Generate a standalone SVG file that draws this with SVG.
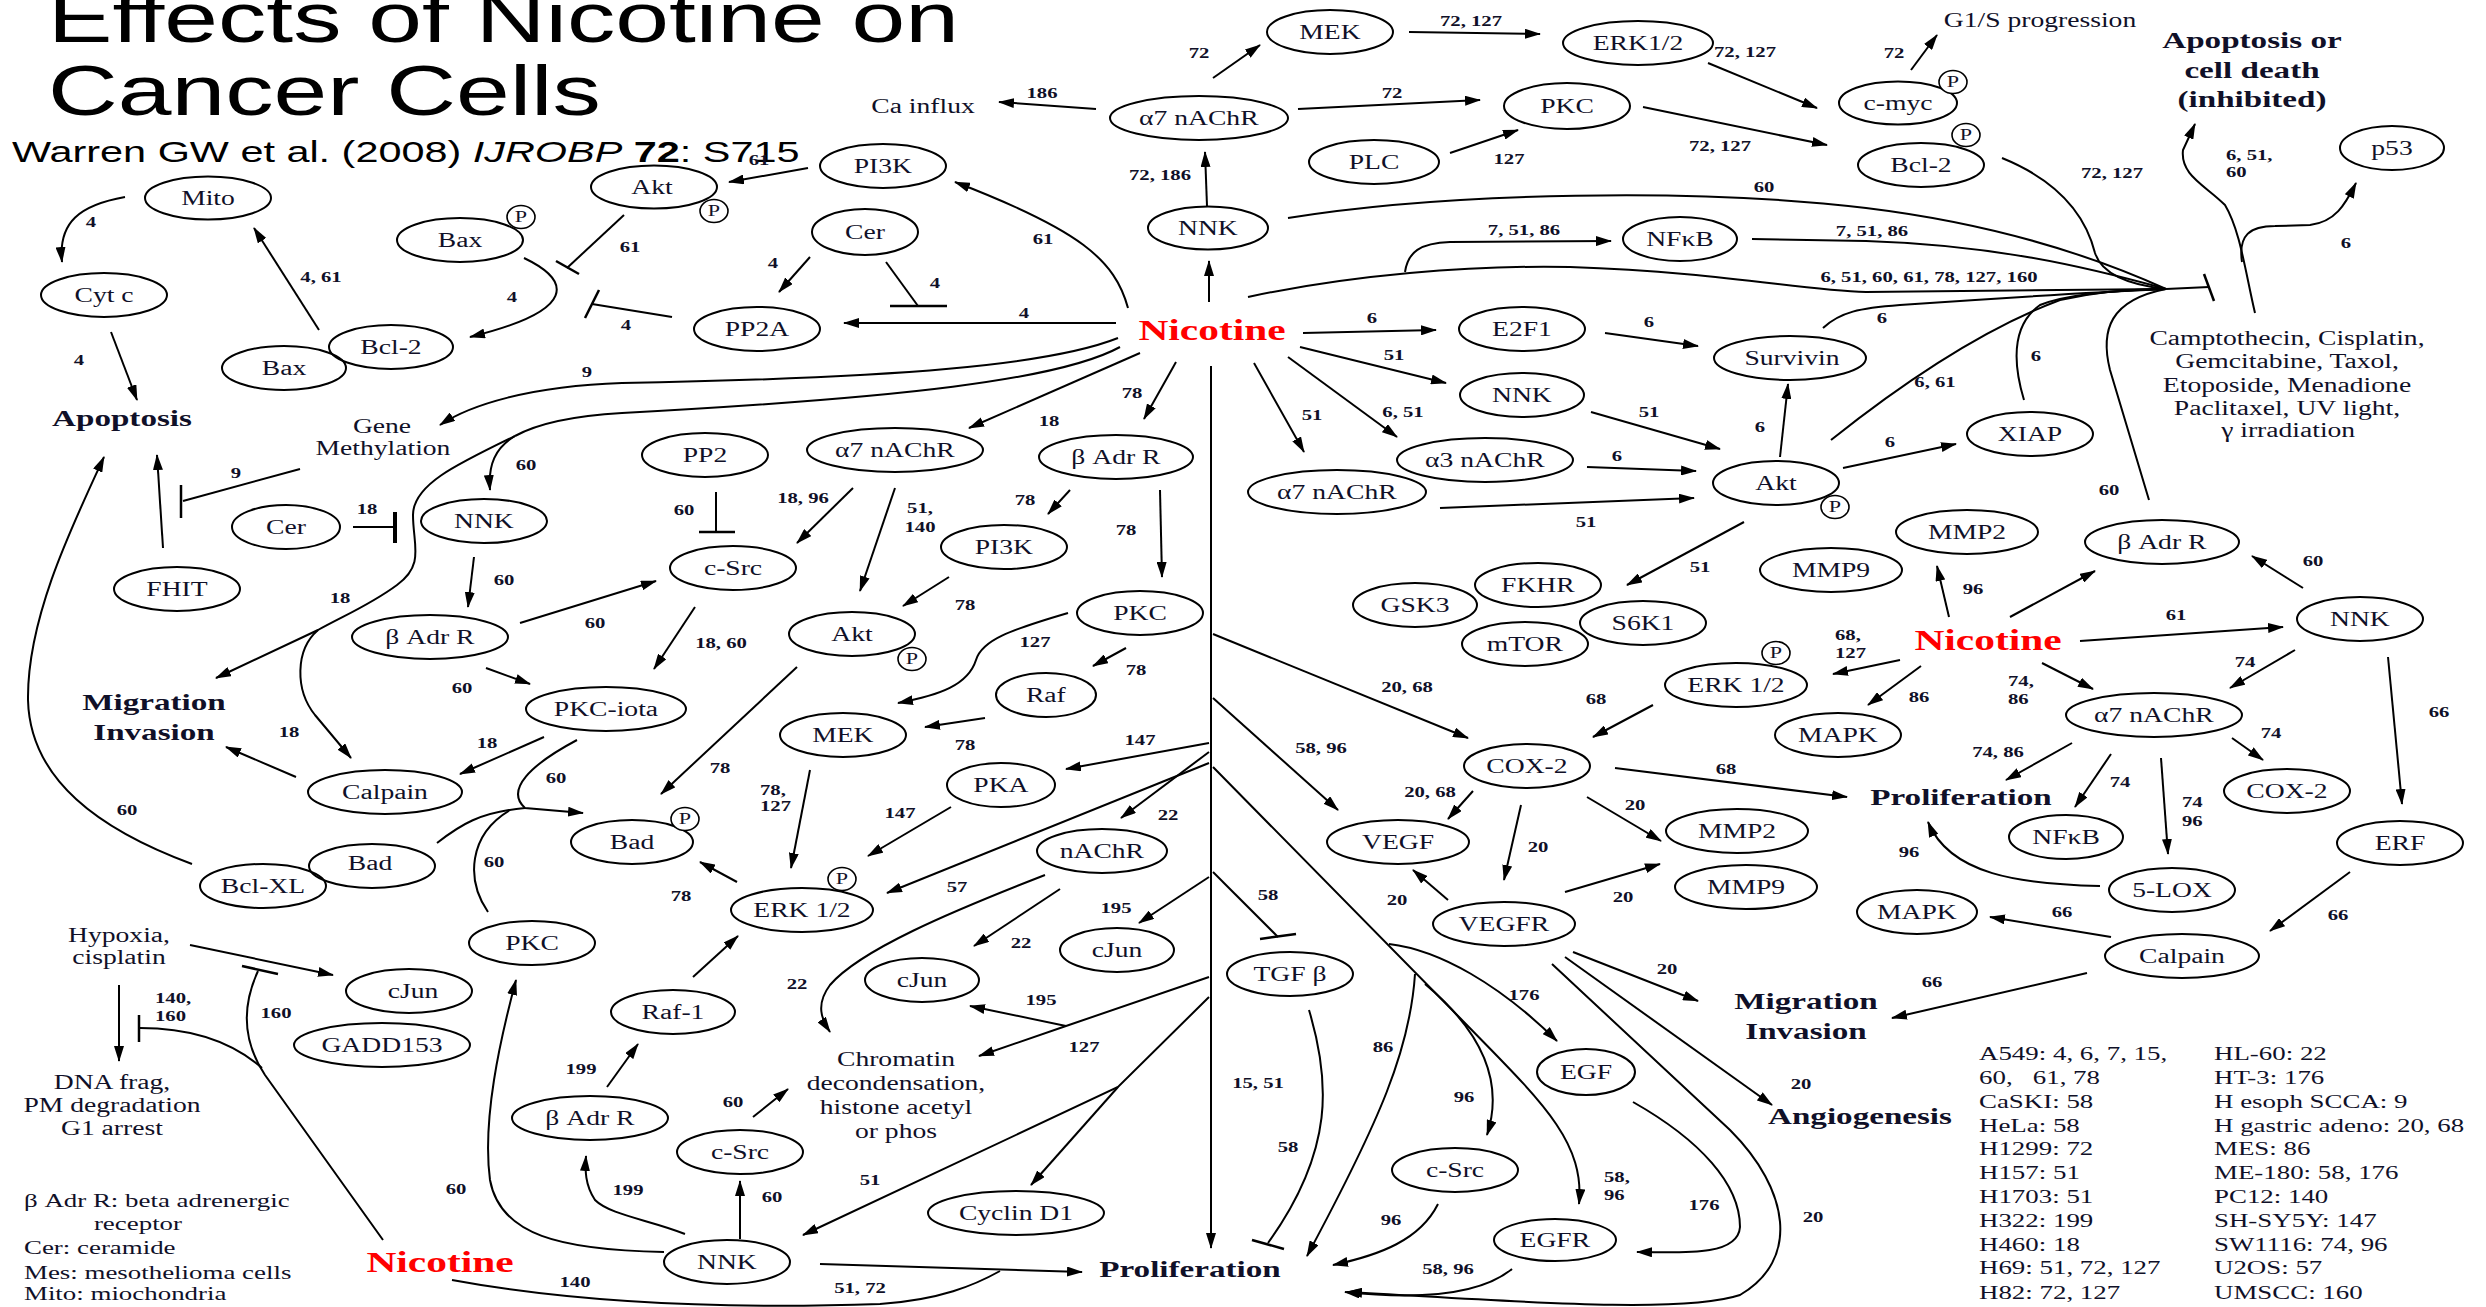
<svg xmlns="http://www.w3.org/2000/svg" width="2486" height="1307" viewBox="0 0 2486 1307">
<style>
text{font-family:"Liberation Serif","Times New Roman",serif;text-anchor:middle;fill:#101028;transform:scaleX(1.38);transform-box:fill-box;transform-origin:50% 50%}
.n{font-size:20px;dominant-baseline:central}
.e{font-size:15px;font-weight:bold;dominant-baseline:central}
.o{font-size:24px;font-weight:bold}
.t{font-size:20px}
.g{font-size:19.5px}
.l{text-anchor:start;transform-origin:0% 50%}
.nic{font-size:30px;font-weight:bold;fill:#ff0000}
.ti{font-family:"Liberation Sans",Arial,sans-serif;fill:#000}
.p{font-size:16px;dominant-baseline:central}
ellipse{fill:none;stroke:#000;stroke-width:2}
ellipse.pc{fill:#fff;stroke-width:1.6}
#edges path,#edges line{fill:none;stroke:#000;stroke-width:2}
#edges .a{marker-end:url(#ah)}
#edges line{stroke-width:2.5}
</style>
<defs>
<marker id="ah" viewBox="0 0 16 10" refX="15" refY="5" markerWidth="16" markerHeight="10" markerUnits="userSpaceOnUse" orient="auto"><path d="M0,0 L16,5 L0,10 z" fill="#000"/></marker>
</defs>
<rect width="2486" height="1307" fill="#fff"/>

<g id="title">
<text class="ti l" x="48" y="42" font-size="70">Effects of Nicotine on</text>
<text class="ti l" x="48" y="115" font-size="70">Cancer Cells</text>
<text class="ti l" x="12" y="162" font-size="30">Warren GW et al. (2008) <tspan font-style="italic">IJROBP</tspan> <tspan font-weight="bold">72</tspan>: S715</text>
</g>

<g id="edges">
<path class="a" d="M125,197 C80,205 58,222 62,262"/>
<path class="a" d="M111,332 L137,400"/>
<path class="a" d="M319,330 L254,228"/>
<path class="a" d="M524,258 C570,280 580,310 470,337"/>
<path d="M624,215 L567,268"/>
<line x1="556" y1="261" x2="579" y2="274"/>
<path d="M672,317 L592,304"/>
<line x1="585" y1="318" x2="599" y2="290"/>
<path class="a" d="M808,168 L729,182"/>
<path class="a" d="M810,257 L779,292"/>
<path d="M886,262 L918,306"/>
<line x1="890" y1="306" x2="947" y2="306"/>
<path class="a" d="M1116,323 L844,323"/>
<path class="a" d="M1128,308 C1115,260 1080,230 955,182"/>
<path class="a" d="M1118,338 C1050,365 900,378 622,383 C530,386 470,405 440,425"/>
<path d="M1120,347 C1060,380 900,398 622,413 C570,416 535,425 515,436"/>
<path class="a" d="M515,436 C495,448 488,465 490,490"/>
<path class="a" d="M515,436 C455,465 413,485 413,515 C413,545 425,565 397,585 C370,605 345,615 318,630 L216,678"/>
<path class="a" d="M318,630 C295,650 295,690 315,715 L351,758"/>
<path class="a" d="M1096,109 L999,102"/>
<path class="a" d="M1213,78 L1260,45"/>
<path class="a" d="M1207,206 L1205,152"/>
<path class="a" d="M1209,302 L1209,261"/>
<path class="a" d="M1409,32 L1540,34"/>
<path class="a" d="M1708,63 L1817,108"/>
<path class="a" d="M1298,109 L1480,100"/>
<path class="a" d="M1450,153 L1518,130"/>
<path class="a" d="M1643,107 L1827,145"/>
<path class="a" d="M1911,70 L1937,35"/>
<path d="M1288,218 C1450,192 1700,188 1866,208 C1980,222 2080,250 2166,289"/>
<path d="M1752,239 L1866,241 C1990,245 2080,265 2166,289"/>
<path d="M1248,297 C1350,275 1470,265 1570,267 C1720,272 1800,290 1866,292 L2166,289"/>
<path class="a" d="M1405,272 C1408,252 1420,243 1450,242 L1611,241"/>
<path d="M2002,158 C2056,180 2085,213 2095,253 C2102,275 2130,285 2166,289"/>
<path d="M1823,328 C1840,312 1860,308 1900,305 C2000,298 2100,292 2166,289"/>
<path d="M1831,440 C1900,385 1980,330 2060,300 C2100,291 2140,289 2166,289"/>
<path d="M2024,400 C2012,360 2012,325 2040,305 C2070,293 2120,290 2166,289"/>
<path d="M2149,500 L2110,370 C2100,330 2110,300 2166,289"/>
<path d="M2166,289 L2209,287"/>
<line x1="2204" y1="274" x2="2214" y2="301"/>
<path class="a" d="M2255,313 C2245,270 2240,230 2225,205 C2205,185 2180,175 2183,150 L2195,124"/>
<path class="a" d="M2242,262 C2238,235 2250,226 2275,226 L2310,225 C2335,222 2345,205 2356,183"/>
<path class="a" d="M1303,333 L1436,330"/>
<path class="a" d="M1605,333 L1698,346"/>
<path class="a" d="M1300,347 L1446,383"/>
<path class="a" d="M1591,412 L1720,449"/>
<path class="a" d="M1288,357 L1397,437"/>
<path class="a" d="M1254,363 L1304,452"/>
<path class="a" d="M1587,467 L1696,471"/>
<path class="a" d="M1440,508 L1694,498"/>
<path class="a" d="M1780,457 L1788,384"/>
<path class="a" d="M1744,522 L1627,585"/>
<path class="a" d="M1843,468 L1956,444"/>
<path class="a" d="M1949,617 L1937,566"/>
<path class="a" d="M2010,617 L2095,571"/>
<path class="a" d="M2303,588 L2252,556"/>
<path class="a" d="M2080,641 L2283,627"/>
<path class="a" d="M2295,650 L2230,688"/>
<path class="a" d="M2388,657 L2402,804"/>
<path class="a" d="M2042,663 L2093,689"/>
<path class="a" d="M1921,666 L1868,705"/>
<path class="a" d="M1900,660 L1833,674"/>
<path class="a" d="M1653,705 L1593,737"/>
<path class="a" d="M2072,743 L2006,780"/>
<path class="a" d="M2111,754 L2075,807"/>
<path class="a" d="M2161,758 L2168,854"/>
<path class="a" d="M2232,738 L2263,760"/>
<path class="a" d="M2100,886 C2020,884 1950,875 1928,822"/>
<path class="a" d="M2350,872 L2270,931"/>
<path class="a" d="M2111,937 L1990,917"/>
<path class="a" d="M2087,973 L1892,1018"/>
<path class="a" d="M1213,634 L1468,738"/>
<path class="a" d="M1213,698 L1338,810"/>
<path class="a" d="M1615,768 L1847,797"/>
<path class="a" d="M1473,791 L1448,819"/>
<path class="a" d="M1587,797 L1661,841"/>
<path class="a" d="M1521,805 L1504,880"/>
<path class="a" d="M1448,900 L1413,870"/>
<path class="a" d="M1565,892 L1660,864"/>
<path class="a" d="M1573,952 L1698,1001"/>
<path class="a" d="M1565,957 L1772,1105"/>
<path class="a" d="M1552,964 L1730,1130 C1790,1190 1800,1260 1740,1295 C1680,1315 1500,1300 1347,1292"/>
<path class="a" d="M1213,767 L1460,1018 C1540,1100 1585,1140 1579,1204"/>
<path class="a" d="M1389,944 C1440,950 1500,985 1557,1041"/>
<path class="a" d="M1425,984 C1480,1030 1505,1080 1487,1135"/>
<path class="a" d="M1415,974 C1410,1050 1380,1120 1307,1256"/>
<path class="a" d="M1438,1204 C1420,1240 1380,1255 1333,1265"/>
<path class="a" d="M1512,1269 C1480,1295 1420,1300 1345,1292"/>
<path class="a" d="M1633,1102 C1700,1140 1740,1184 1740,1227 C1738,1255 1690,1253 1637,1252"/>
<path d="M1213,872 L1278,937"/>
<line x1="1260" y1="939" x2="1296" y2="934"/>
<path d="M1309,1010 C1330,1080 1335,1150 1268,1243"/>
<line x1="1252" y1="1240" x2="1284" y2="1249"/>
<path class="a" d="M1140,353 L969,428"/>
<path class="a" d="M1176,362 L1144,419"/>
<path class="a" d="M1211,366 L1211,1248"/>
<path d="M716,492 L716,532"/>
<line x1="699" y1="532" x2="735" y2="532"/>
<path class="a" d="M853,488 L797,543"/>
<path class="a" d="M895,488 L860,591"/>
<path class="a" d="M1070,490 L1048,514"/>
<path class="a" d="M1160,490 L1162,577"/>
<path class="a" d="M949,577 L903,606"/>
<path class="a" d="M695,607 L654,669"/>
<path class="a" d="M797,667 L661,794"/>
<path class="a" d="M1068,613 C1010,630 982,640 976,660 C968,685 940,695 898,703"/>
<path class="a" d="M1126,648 L1093,666"/>
<path class="a" d="M985,718 L925,727"/>
<path class="a" d="M810,770 L791,868"/>
<path class="a" d="M1209,743 L1066,769"/>
<path class="a" d="M951,807 L868,856"/>
<path class="a" d="M1209,752 L1121,818"/>
<path class="a" d="M1209,763 L887,893"/>
<path class="a" d="M737,882 L700,862"/>
<path class="a" d="M1045,875 C950,912 860,950 830,985 C815,1005 822,1020 830,1032"/>
<path class="a" d="M1060,889 L974,946"/>
<path class="a" d="M1209,877 L1139,923"/>
<path class="a" d="M1209,977 L1066,1026 L979,1056"/>
<path class="a" d="M1066,1026 L970,1006"/>
<path class="a" d="M1209,997 L1118,1087 L803,1235"/>
<path class="a" d="M1118,1087 L1031,1185"/>
<path class="a" d="M693,977 L738,936"/>
<path class="a" d="M753,1117 L788,1089"/>
<path class="a" d="M740,1239 L740,1181"/>
<path class="a" d="M820,1264 L1082,1272"/>
<path d="M452,1280 C560,1300 700,1310 880,1304 C940,1300 975,1285 1000,1271"/>
<path class="a" d="M685,1234 C650,1220 610,1215 595,1200 C585,1185 585,1170 586,1156"/>
<path class="a" d="M607,1087 L638,1044"/>
<path class="a" d="M664,1252 C560,1250 500,1235 490,1180 C482,1120 500,1040 516,980"/>
<path class="a" d="M474,557 L468,607"/>
<path class="a" d="M520,623 L656,581"/>
<path class="a" d="M486,668 L530,684"/>
<path class="a" d="M296,777 L226,747"/>
<path class="a" d="M544,737 L460,774"/>
<path class="a" d="M577,740 C530,765 505,790 525,808 L583,813"/>
<path d="M437,843 C460,825 480,812 525,808"/>
<path d="M488,912 C466,880 468,835 510,810"/>
<path class="a" d="M192,864 C100,830 30,780 28,700 C27,620 70,530 104,457"/>
<path class="a" d="M163,548 L157,455"/>
<path d="M300,469 L183,501"/>
<line x1="181" y1="485" x2="181" y2="518"/>
<path d="M353,527 L395,527"/>
<line x1="395" y1="512" x2="395" y2="543" style="stroke-width:4"/>
<path class="a" d="M190,945 L333,975"/>
<path class="a" d="M119,985 L119,1061"/>
<path d="M383,1240 L265,1075 C245,1045 240,1010 258,971"/>
<line x1="242" y1="966" x2="278" y2="974"/>
<path d="M262,1068 C230,1040 190,1028 140,1028"/>
<line x1="139" y1="1015" x2="139" y2="1042"/>
</g>

<g id="nodes">
<g id="n-mito"><ellipse cx="208" cy="198" rx="63" ry="21.5"/><text class="n" x="208" y="198">Mito</text></g>
<g id="n-baxp"><ellipse cx="460" cy="240" rx="63" ry="22"/><text class="n" x="460" y="240">Bax</text><ellipse class="pc" cx="521" cy="217" rx="14" ry="11.5"/><text class="p" x="521" y="217">P</text></g>
<g id="n-cytc"><ellipse cx="104" cy="295" rx="63" ry="22"/><text class="n" x="104" y="295">Cyt c</text></g>
<g id="n-baxa"><ellipse cx="284" cy="368" rx="62" ry="22"/><text class="n" x="284" y="368">Bax</text></g>
<g id="n-bcl2a"><ellipse cx="391" cy="347" rx="62" ry="22"/><text class="n" x="391" y="347">Bcl-2</text></g>
<g id="n-akta"><ellipse cx="654" cy="187" rx="63" ry="21.5"/><text class="n" x="652" y="187">Akt</text><ellipse class="pc" cx="714" cy="211" rx="14" ry="11.5"/><text class="p" x="714" y="211">P</text></g>
<g id="n-pi3ka"><ellipse cx="883" cy="166" rx="63" ry="22"/><text class="n" x="883" y="166">PI3K</text></g>
<g id="n-cera"><ellipse cx="865" cy="232" rx="53" ry="23"/><text class="n" x="865" y="232">Cer</text></g>
<g id="n-pp2a"><ellipse cx="757" cy="329" rx="63" ry="22"/><text class="n" x="757" y="329">PP2A</text></g>
<g id="n-a7top"><ellipse cx="1199" cy="118" rx="89" ry="22"/><text class="n" x="1199" y="118">α7 nAChR</text></g>
<g id="n-nnktop"><ellipse cx="1208" cy="228" rx="60" ry="21.5"/><text class="n" x="1208" y="228">NNK</text></g>
<g id="n-mektop"><ellipse cx="1330" cy="32" rx="63" ry="22"/><text class="n" x="1330" y="32">MEK</text></g>
<g id="n-erktop"><ellipse cx="1638" cy="43" rx="75" ry="22"/><text class="n" x="1638" y="43">ERK1/2</text></g>
<g id="n-pkctop"><ellipse cx="1567" cy="106" rx="63" ry="23"/><text class="n" x="1567" y="106">PKC</text></g>
<g id="n-plc"><ellipse cx="1374" cy="162" rx="65" ry="22"/><text class="n" x="1374" y="162">PLC</text></g>
<g id="n-cmyc"><ellipse cx="1898" cy="103" rx="59" ry="21.5"/><text class="n" x="1898" y="103">c-myc</text><ellipse class="pc" cx="1953" cy="82" rx="14" ry="11.5"/><text class="p" x="1953" y="82">P</text></g>
<g id="n-bcl2b"><ellipse cx="1921" cy="165" rx="63" ry="22"/><text class="n" x="1921" y="165">Bcl-2</text><ellipse class="pc" cx="1966" cy="135" rx="14" ry="11.5"/><text class="p" x="1966" y="135">P</text></g>
<g id="n-p53"><ellipse cx="2392" cy="148" rx="52" ry="22"/><text class="n" x="2392" y="148">p53</text></g>
<g id="n-nfkba"><ellipse cx="1680" cy="239" rx="57" ry="22"/><text class="n" x="1680" y="239">NFκB</text></g>
<g id="n-e2f1"><ellipse cx="1522" cy="329" rx="63" ry="22"/><text class="n" x="1522" y="329">E2F1</text></g>
<g id="n-survivin"><ellipse cx="1790" cy="358" rx="76" ry="22"/><text class="n" x="1792" y="358">Survivin</text></g>
<g id="n-nnkr"><ellipse cx="1522" cy="395" rx="62" ry="22"/><text class="n" x="1522" y="395">NNK</text></g>
<g id="n-xiap"><ellipse cx="2030" cy="434" rx="63" ry="22"/><text class="n" x="2030" y="434">XIAP</text></g>
<g id="n-a3"><ellipse cx="1485" cy="460" rx="88" ry="22"/><text class="n" x="1485" y="460">α3 nAChR</text></g>
<g id="n-a7r"><ellipse cx="1337" cy="492" rx="89" ry="22"/><text class="n" x="1337" y="492">α7 nAChR</text></g>
<g id="n-aktr"><ellipse cx="1776" cy="483" rx="63" ry="22"/><text class="n" x="1776" y="483">Akt</text><ellipse class="pc" cx="1835" cy="507" rx="14" ry="11.5"/><text class="p" x="1835" y="507">P</text></g>
<g id="n-gsk3"><ellipse cx="1415" cy="605" rx="62" ry="22"/><text class="n" x="1415" y="605">GSK3</text></g>
<g id="n-fkhr"><ellipse cx="1538" cy="585" rx="63" ry="22"/><text class="n" x="1538" y="585">FKHR</text></g>
<g id="n-s6k1"><ellipse cx="1643" cy="623" rx="63" ry="22"/><text class="n" x="1643" y="623">S6K1</text></g>
<g id="n-mtor"><ellipse cx="1525" cy="644" rx="63" ry="22"/><text class="n" x="1525" y="644">mTOR</text></g>
<g id="n-mmp9r"><ellipse cx="1831" cy="570" rx="71" ry="22"/><text class="n" x="1831" y="570">MMP9</text></g>
<g id="n-mmp2r"><ellipse cx="1967" cy="532" rx="71" ry="22"/><text class="n" x="1967" y="532">MMP2</text></g>
<g id="n-badrr"><ellipse cx="2162" cy="542" rx="77" ry="22"/><text class="n" x="2162" y="542">β Adr R</text></g>
<g id="n-nnkrr"><ellipse cx="2360" cy="619" rx="63" ry="22"/><text class="n" x="2360" y="619">NNK</text></g>
<g id="n-erkr"><ellipse cx="1736" cy="685" rx="71" ry="22"/><text class="n" x="1736" y="685">ERK 1/2</text><ellipse class="pc" cx="1776" cy="653" rx="14" ry="11.5"/><text class="p" x="1776" y="653">P</text></g>
<g id="n-mapkr"><ellipse cx="1838" cy="735" rx="63" ry="22"/><text class="n" x="1838" y="735">MAPK</text></g>
<g id="n-a7rr"><ellipse cx="2154" cy="715" rx="88" ry="22"/><text class="n" x="2154" y="715">α7 nAChR</text></g>
<g id="n-cox2r"><ellipse cx="2287" cy="791" rx="63" ry="22"/><text class="n" x="2287" y="791">COX-2</text></g>
<g id="n-nfkbr"><ellipse cx="2066" cy="837" rx="57" ry="22"/><text class="n" x="2066" y="837">NFκB</text></g>
<g id="n-erf"><ellipse cx="2400" cy="843" rx="63" ry="22"/><text class="n" x="2400" y="843">ERF</text></g>
<g id="n-lox"><ellipse cx="2172" cy="890" rx="63" ry="22"/><text class="n" x="2172" y="890">5-LOX</text></g>
<g id="n-mapkb"><ellipse cx="1917" cy="912" rx="60" ry="22"/><text class="n" x="1917" y="912">MAPK</text></g>
<g id="n-calpr"><ellipse cx="2182" cy="956" rx="77" ry="22"/><text class="n" x="2182" y="956">Calpain</text></g>
<g id="n-cox2m"><ellipse cx="1527" cy="766" rx="63" ry="22"/><text class="n" x="1527" y="766">COX-2</text></g>
<g id="n-vegf"><ellipse cx="1398" cy="842" rx="71" ry="22"/><text class="n" x="1398" y="842">VEGF</text></g>
<g id="n-mmp2m"><ellipse cx="1737" cy="831" rx="71" ry="22"/><text class="n" x="1737" y="831">MMP2</text></g>
<g id="n-vegfr"><ellipse cx="1504" cy="924" rx="71" ry="22"/><text class="n" x="1504" y="924">VEGFR</text></g>
<g id="n-mmp9m"><ellipse cx="1746" cy="887" rx="71" ry="22"/><text class="n" x="1746" y="887">MMP9</text></g>
<g id="n-egf"><ellipse cx="1586" cy="1072" rx="49" ry="23"/><text class="n" x="1586" y="1072">EGF</text></g>
<g id="n-csrcr"><ellipse cx="1455" cy="1170" rx="63" ry="22"/><text class="n" x="1455" y="1170">c-Src</text></g>
<g id="n-egfr"><ellipse cx="1555" cy="1240" rx="61" ry="21"/><text class="n" x="1555" y="1240">EGFR</text></g>
<g id="n-tgfb"><ellipse cx="1290" cy="974" rx="63" ry="22"/><text class="n" x="1290" y="974">TGF β</text></g>
<g id="n-pp2"><ellipse cx="705" cy="455" rx="63" ry="22"/><text class="n" x="705" y="455">PP2</text></g>
<g id="n-a7m"><ellipse cx="895" cy="450" rx="88" ry="22"/><text class="n" x="895" y="450">α7 nAChR</text></g>
<g id="n-badrm"><ellipse cx="1116" cy="457" rx="77" ry="22"/><text class="n" x="1116" y="457">β Adr R</text></g>
<g id="n-pi3km"><ellipse cx="1004" cy="547" rx="63" ry="22"/><text class="n" x="1004" y="547">PI3K</text></g>
<g id="n-csrcm"><ellipse cx="733" cy="568" rx="63" ry="22"/><text class="n" x="733" y="568">c-Src</text></g>
<g id="n-aktm"><ellipse cx="852" cy="634" rx="63" ry="22"/><text class="n" x="852" y="634">Akt</text><ellipse class="pc" cx="912" cy="659" rx="14" ry="11.5"/><text class="p" x="912" y="659">P</text></g>
<g id="n-pkcm"><ellipse cx="1140" cy="613" rx="63" ry="22"/><text class="n" x="1140" y="613">PKC</text></g>
<g id="n-raf"><ellipse cx="1046" cy="695" rx="50" ry="22"/><text class="n" x="1046" y="695">Raf</text></g>
<g id="n-mekm"><ellipse cx="843" cy="735" rx="63" ry="22"/><text class="n" x="843" y="735">MEK</text></g>
<g id="n-pka"><ellipse cx="1001" cy="785" rx="54" ry="22"/><text class="n" x="1001" y="785">PKA</text></g>
<g id="n-badm"><ellipse cx="632" cy="842" rx="61" ry="22"/><text class="n" x="632" y="842">Bad</text><ellipse class="pc" cx="685" cy="819" rx="14" ry="11.5"/><text class="p" x="685" y="819">P</text></g>
<g id="n-nachr"><ellipse cx="1102" cy="851" rx="65" ry="22"/><text class="n" x="1102" y="851">nAChR</text></g>
<g id="n-erkb"><ellipse cx="802" cy="910" rx="71" ry="22"/><text class="n" x="802" y="910">ERK 1/2</text><ellipse class="pc" cx="842" cy="879" rx="14" ry="11.5"/><text class="p" x="842" y="879">P</text></g>
<g id="n-cjunm"><ellipse cx="922" cy="980" rx="57" ry="22"/><text class="n" x="922" y="980">cJun</text></g>
<g id="n-cjunr"><ellipse cx="1117" cy="950" rx="57" ry="22"/><text class="n" x="1117" y="950">cJun</text></g>
<g id="n-raf1"><ellipse cx="673" cy="1012" rx="62" ry="22"/><text class="n" x="673" y="1012">Raf-1</text></g>
<g id="n-csrcb"><ellipse cx="740" cy="1152" rx="63" ry="22"/><text class="n" x="740" y="1152">c-Src</text></g>
<g id="n-badrb"><ellipse cx="590" cy="1118" rx="78" ry="22"/><text class="n" x="590" y="1118">β Adr R</text></g>
<g id="n-nnkb"><ellipse cx="727" cy="1262" rx="63" ry="22"/><text class="n" x="727" y="1262">NNK</text></g>
<g id="n-cyclin"><ellipse cx="1016" cy="1213" rx="88" ry="22"/><text class="n" x="1016" y="1213">Cyclin D1</text></g>
<g id="n-cerl"><ellipse cx="286" cy="527" rx="54" ry="22"/><text class="n" x="286" y="527">Cer</text></g>
<g id="n-fhit"><ellipse cx="177" cy="589" rx="63" ry="22"/><text class="n" x="177" y="589">FHIT</text></g>
<g id="n-nnkl"><ellipse cx="484" cy="521" rx="63" ry="22"/><text class="n" x="484" y="521">NNK</text></g>
<g id="n-badrl"><ellipse cx="430" cy="637" rx="78" ry="22"/><text class="n" x="430" y="637">β Adr R</text></g>
<g id="n-pkciota"><ellipse cx="606" cy="709" rx="80" ry="22"/><text class="n" x="606" y="709">PKC-iota</text></g>
<g id="n-calpl"><ellipse cx="385" cy="792" rx="77" ry="22"/><text class="n" x="385" y="792">Calpain</text></g>
<g id="n-bclxl"><ellipse cx="263" cy="886" rx="63" ry="22"/><text class="n" x="263" y="886">Bcl-XL</text></g>
<g id="n-badl"><ellipse cx="372" cy="866" rx="63" ry="22"/><text class="n" x="370" y="863">Bad</text></g>
<g id="n-pkcl"><ellipse cx="532" cy="943" rx="63" ry="22"/><text class="n" x="532" y="943">PKC</text></g>
<g id="n-cjunl"><ellipse cx="409" cy="991" rx="63" ry="22"/><text class="n" x="413" y="991">cJun</text></g>
<g id="n-gadd"><ellipse cx="382" cy="1045" rx="88" ry="22"/><text class="n" x="382" y="1045">GADD153</text></g>

<g id="n-nic-c"><text class="nic" x="1212" y="340">Nicotine</text></g>
<g id="n-nic-r"><text class="nic" x="1988" y="650">Nicotine</text></g>
<g id="n-nic-l"><text class="nic" x="440" y="1272">Nicotine</text></g>

<g id="n-apop"><text class="o" x="122" y="426">Apoptosis</text></g>
<g id="n-migl"><text class="o" x="154" y="710">Migration</text><text class="o" x="154" y="740">Invasion</text></g>
<g id="n-prolb"><text class="o" x="1190" y="1277">Proliferation</text></g>
<g id="n-prolr"><text class="o" x="1961" y="805">Proliferation</text></g>
<g id="n-migr"><text class="o" x="1806" y="1009">Migration</text><text class="o" x="1806" y="1039">Invasion</text></g>
<g id="n-angio"><text class="o" x="1860" y="1124">Angiogenesis</text></g>
<g id="n-apopinh"><text class="o" x="2252" y="48">Apoptosis or</text><text class="o" x="2252" y="78">cell death</text><text class="o" x="2252" y="107">(inhibited)</text></g>
<g id="n-ca"><text class="t" x="923" y="113">Ca influx</text></g>
<g id="n-g1s"><text class="t" x="2040" y="27">G1/S progression</text></g>
<g id="n-gene"><text class="t" x="382" y="433">Gene</text><text class="t" x="383" y="455">Methylation</text></g>
<g id="n-drugs"><text class="t" x="2287" y="345">Camptothecin, Cisplatin,</text><text class="t" x="2287" y="368">Gemcitabine, Taxol,</text><text class="t" x="2287" y="392">Etoposide, Menadione</text><text class="t" x="2287" y="415">Paclitaxel, UV light,</text><text class="t" x="2288" y="437">γ irradiation</text></g>
<g id="n-hypoxia"><text class="t" x="119" y="942">Hypoxia,</text><text class="t" x="119" y="964">cisplatin</text></g>
<g id="n-dna"><text class="t" x="112" y="1089">DNA frag,</text><text class="t" x="112" y="1112">PM degradation</text><text class="t" x="112" y="1135">G1 arrest</text></g>
<g id="n-chrom"><text class="t" x="896" y="1066">Chromatin</text><text class="t" x="896" y="1090">decondensation,</text><text class="t" x="896" y="1114">histone acetyl</text><text class="t" x="896" y="1138">or phos</text></g>
</g>

<g id="legend">
<text class="g l" x="24" y="1207">β Adr R: beta adrenergic</text>
<text class="g" x="138" y="1230">receptor</text>
<text class="g l" x="24" y="1254">Cer: ceramide</text>
<text class="g l" x="24" y="1279">Mes: mesothelioma cells</text>
<text class="g l" x="24" y="1300">Mito: miochondria</text>
<text class="g l" x="1979" y="1060">A549: 4, 6, 7, 15,</text>
<text class="g l" x="1979" y="1084">60,&#160;&#160; 61, 78</text>
<text class="g l" x="1979" y="1108">CaSKI: 58</text>
<text class="g l" x="1979" y="1132">HeLa: 58</text>
<text class="g l" x="1979" y="1155">H1299: 72</text>
<text class="g l" x="1979" y="1179">H157: 51</text>
<text class="g l" x="1979" y="1203">H1703: 51</text>
<text class="g l" x="1979" y="1227">H322: 199</text>
<text class="g l" x="1979" y="1251">H460: 18</text>
<text class="g l" x="1979" y="1274">H69: 51, 72, 127</text>
<text class="g l" x="1979" y="1299">H82: 72, 127</text>
<text class="g l" x="2214" y="1060">HL-60: 22</text>
<text class="g l" x="2214" y="1084">HT-3: 176</text>
<text class="g l" x="2214" y="1108">H esoph SCCA: 9</text>
<text class="g l" x="2214" y="1132">H gastric adeno: 20, 68</text>
<text class="g l" x="2214" y="1155">MES: 86</text>
<text class="g l" x="2214" y="1179">ME-180: 58, 176</text>
<text class="g l" x="2214" y="1203">PC12: 140</text>
<text class="g l" x="2214" y="1227">SH-SY5Y: 147</text>
<text class="g l" x="2214" y="1251">SW1116: 74, 96</text>
<text class="g l" x="2214" y="1274">U2OS: 57</text>
<text class="g l" x="2214" y="1299">UMSCC: 160</text>
</g>

<g id="edge-labels">
<text class="e" x="91" y="222">4</text>
<text class="e" x="79" y="360">4</text>
<text class="e" x="321" y="277">4, 61</text>
<text class="e" x="512" y="297">4</text>
<text class="e" x="630" y="247">61</text>
<text class="e" x="626" y="325">4</text>
<text class="e" x="587" y="372">9</text>
<text class="e" x="759" y="160">61</text>
<text class="e" x="773" y="263">4</text>
<text class="e" x="935" y="283">4</text>
<text class="e" x="1024" y="313">4</text>
<text class="e" x="1043" y="239">61</text>
<text class="e" x="1042" y="93">186</text>
<text class="e" x="1199" y="53">72</text>
<text class="e" x="1160" y="175">72, 186</text>
<text class="e" x="1471" y="21">72, 127</text>
<text class="e" x="1745" y="52">72, 127</text>
<text class="e" x="1392" y="93">72</text>
<text class="e" x="1509" y="159">127</text>
<text class="e" x="1720" y="146">72, 127</text>
<text class="e" x="1894" y="53">72</text>
<text class="e" x="2112" y="173">72, 127</text>
<text class="e" x="1764" y="187">60</text>
<text class="e" x="1524" y="230">7, 51, 86</text>
<text class="e" x="1872" y="231">7, 51, 86</text>
<text class="e" x="1929" y="277">6, 51, 60, 61, 78, 127, 160</text>
<text class="e" x="1882" y="318">6</text>
<text class="e l" x="2226" y="155">6, 51,</text>
<text class="e l" x="2226" y="172">60</text>
<text class="e" x="2346" y="243">6</text>
<text class="e" x="1372" y="318">6</text>
<text class="e" x="1649" y="322">6</text>
<text class="e" x="1394" y="355">51</text>
<text class="e" x="1649" y="412">51</text>
<text class="e" x="1403" y="412">6, 51</text>
<text class="e" x="1312" y="415">51</text>
<text class="e" x="1760" y="427">6</text>
<text class="e" x="1935" y="382">6, 61</text>
<text class="e" x="2036" y="356">6</text>
<text class="e" x="1890" y="442">6</text>
<text class="e" x="1617" y="456">6</text>
<text class="e" x="1586" y="522">51</text>
<text class="e" x="1700" y="567">51</text>
<text class="e" x="2109" y="490">60</text>
<text class="e" x="1973" y="589">96</text>
<text class="e" x="2313" y="561">60</text>
<text class="e" x="2176" y="615">61</text>
<text class="e" x="2245" y="662">74</text>
<text class="e" x="2439" y="712">66</text>
<text class="e l" x="2008" y="681">74,</text>
<text class="e l" x="2008" y="699">86</text>
<text class="e" x="1919" y="697">86</text>
<text class="e l" x="1835" y="635">68,</text>
<text class="e l" x="1835" y="653">127</text>
<text class="e" x="1596" y="699">68</text>
<text class="e" x="1998" y="752">74, 86</text>
<text class="e" x="2120" y="782">74</text>
<text class="e l" x="2182" y="802">74</text>
<text class="e l" x="2182" y="821">96</text>
<text class="e" x="2271" y="733">74</text>
<text class="e" x="1909" y="852">96</text>
<text class="e" x="2062" y="912">66</text>
<text class="e" x="2338" y="915">66</text>
<text class="e" x="1932" y="982">66</text>
<text class="e" x="1407" y="687">20, 68</text>
<text class="e" x="1321" y="748">58, 96</text>
<text class="e" x="1726" y="769">68</text>
<text class="e" x="1430" y="792">20, 68</text>
<text class="e" x="1635" y="805">20</text>
<text class="e" x="1538" y="847">20</text>
<text class="e" x="1397" y="900">20</text>
<text class="e" x="1623" y="897">20</text>
<text class="e" x="1667" y="969">20</text>
<text class="e" x="1801" y="1084">20</text>
<text class="e" x="1813" y="1217">20</text>
<text class="e" x="1524" y="995">176</text>
<text class="e" x="1383" y="1047">86</text>
<text class="e" x="1464" y="1097">96</text>
<text class="e l" x="1604" y="1177">58,</text>
<text class="e l" x="1604" y="1195">96</text>
<text class="e" x="1704" y="1205">176</text>
<text class="e" x="1391" y="1220">96</text>
<text class="e" x="1448" y="1269">58, 96</text>
<text class="e" x="1268" y="895">58</text>
<text class="e" x="1288" y="1147">58</text>
<text class="e" x="1258" y="1083">15, 51</text>
<text class="e" x="684" y="510">60</text>
<text class="e" x="803" y="498">18, 96</text>
<text class="e" x="920" y="508">51,</text>
<text class="e" x="920" y="527">140</text>
<text class="e" x="1025" y="500">78</text>
<text class="e" x="1126" y="530">78</text>
<text class="e" x="965" y="605">78</text>
<text class="e" x="721" y="643">18, 60</text>
<text class="e" x="1035" y="642">127</text>
<text class="e" x="1136" y="670">78</text>
<text class="e" x="965" y="745">78</text>
<text class="e" x="720" y="768">78</text>
<text class="e l" x="760" y="790">78,</text>
<text class="e l" x="760" y="806">127</text>
<text class="e" x="1140" y="740">147</text>
<text class="e" x="900" y="813">147</text>
<text class="e" x="1168" y="815">22</text>
<text class="e" x="957" y="887">57</text>
<text class="e" x="681" y="896">78</text>
<text class="e" x="797" y="984">22</text>
<text class="e" x="1021" y="943">22</text>
<text class="e" x="1116" y="908">195</text>
<text class="e" x="1041" y="1000">195</text>
<text class="e" x="1084" y="1047">127</text>
<text class="e" x="733" y="1102">60</text>
<text class="e" x="772" y="1197">60</text>
<text class="e" x="870" y="1180">51</text>
<text class="e" x="860" y="1288">51, 72</text>
<text class="e" x="1049" y="421">18</text>
<text class="e" x="1132" y="393">78</text>
<text class="e" x="526" y="465">60</text>
<text class="e" x="340" y="598">18</text>
<text class="e" x="289" y="732">18</text>
<text class="e" x="236" y="473">9</text>
<text class="e" x="367" y="509">18</text>
<text class="e" x="504" y="580">60</text>
<text class="e" x="595" y="623">60</text>
<text class="e" x="462" y="688">60</text>
<text class="e" x="487" y="743">18</text>
<text class="e" x="556" y="778">60</text>
<text class="e" x="494" y="862">60</text>
<text class="e" x="127" y="810">60</text>
<text class="e" x="276" y="1013">160</text>
<text class="e l" x="155" y="998">140,</text>
<text class="e l" x="155" y="1016">160</text>
<text class="e" x="456" y="1189">60</text>
<text class="e" x="581" y="1069">199</text>
<text class="e" x="628" y="1190">199</text>
<text class="e" x="575" y="1282">140</text>
</g>
</svg>
